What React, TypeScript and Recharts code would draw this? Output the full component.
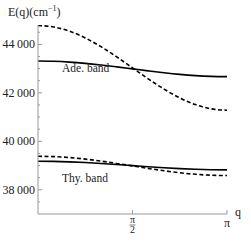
import React from "react";
import { LineChart, Line, XAxis, YAxis } from "recharts";

// q sampled from 0 to pi in steps of pi/12
const qValues = [0, 0.2618, 0.5236, 0.7854, 1.0472, 1.309, 1.5708, 1.8326, 2.0944, 2.3562, 2.618, 2.8798, 3.1416];

// Adenine band (cm^-1)
const adeSolid = [43312, 43301, 43269, 43218, 43151, 43073, 42990, 42907, 42829, 42762, 42711, 42679, 42668];
const adeDashed = [44780, 44720, 44545, 44267, 43905, 43483, 43030, 42577, 42155, 41793, 41515, 41340, 41280];

// Thymine band (cm^-1)
const thySolid = [39175, 39170, 39152, 39124, 39087, 39044, 38998, 38952, 38909, 38872, 38844, 38826, 38820];
const thyDashed = [39381, 39368, 39329, 39265, 39183, 39087, 38984, 38881, 38785, 38703, 38639, 38600, 38586];

const yMajor = [38000, 40000, 42000, 44000];
const yTicks = [37500, 38000, 38500, 39000, 39500, 40000, 40500, 41000, 41500, 42000, 42500, 43000, 43500, 44000, 44500];
const xTicks = [Math.PI / 2, Math.PI];

const data = qValues.map((q, i) => ({
  q,
  adeSolid: adeSolid[i],
  adeDashed: adeDashed[i],
  thySolid: thySolid[i],
  thyDashed: thyDashed[i],
}));

const FONT = "'Liberation Serif', 'DejaVu Serif', serif";
const AXIS = "#999";

function YTick({ x, y, payload }: any) {
  const major = yMajor.includes(payload.value);
  const s = String(payload.value);
  const label = s.slice(0, 2) + "\u2009" + s.slice(2);
  return (
    <g>
      <line x1={x} x2={x + (major ? 4 : 2)} y1={y} y2={y} stroke={AXIS} />
      {major && (
        <text x={x - 3} y={y + 4} textAnchor="end" fontSize={12} fontFamily={FONT} fill="#222">
          {label}
        </text>
      )}
    </g>
  );
}

function XTick({ x, y, payload }: any) {
  const half = Math.abs(payload.value - Math.PI / 2) < 1e-6;
  return (
    <g>
      <line x1={x} x2={x} y1={y} y2={y - 4} stroke={AXIS} />
      {half ? (
        <g fontFamily={FONT} fill="#222" textAnchor="middle">
          <text x={x} y={y + 9} fontSize={10}>π</text>
          <line x1={x - 3} x2={x + 3} y1={y + 11} y2={y + 11} stroke="#222" strokeWidth={0.6} />
          <text x={x} y={y + 19} fontSize={10}>2</text>
        </g>
      ) : (
        <text x={x} y={y + 13} fontSize={12} fontFamily={FONT} fill="#222" textAnchor="middle">π</text>
      )}
    </g>
  );
}

export default function App() {
  return (
    <div style={{ position: "absolute", left: 0, top: 0, width: 251, height: 242, background: "#fff" }}>
      <LineChart width={251} height={242} data={data} margin={{ top: 25, right: 24, bottom: 0, left: 0 }}>
        <XAxis
          type="number"
          dataKey="q"
          domain={[0, Math.PI]}
          ticks={xTicks}
          interval={0}
          height={28}
          tickSize={0}
          tickMargin={0}
          tick={<XTick />}
          axisLine={{ stroke: AXIS }}
          tickLine={false}
        />
        <YAxis
          type="number"
          domain={[37000, 44800]}
          allowDataOverflow
          ticks={yTicks}
          interval={0}
          width={38}
          tickSize={0}
          tickMargin={0}
          tick={<YTick />}
          axisLine={{ stroke: AXIS }}
          tickLine={false}
        />
        <Line type="monotone" dataKey="adeDashed" stroke="#000" strokeWidth={1.6} strokeDasharray="4 2.5" dot={false} isAnimationActive={false} />
        <Line type="monotone" dataKey="adeSolid" stroke="#000" strokeWidth={1.6} dot={false} isAnimationActive={false} />
        <Line type="monotone" dataKey="thyDashed" stroke="#000" strokeWidth={1.6} strokeDasharray="4 2.5" dot={false} isAnimationActive={false} />
        <Line type="monotone" dataKey="thySolid" stroke="#000" strokeWidth={1.6} dot={false} isAnimationActive={false} />
      </LineChart>
      <svg width={251} height={242} style={{ position: "absolute", left: 0, top: 0, pointerEvents: "none" }}>
        <g fontFamily={FONT} fill="#222">
          <text x={8} y={16} fontSize={12}>
            E(q)(cm<tspan fontSize={8} dy={-5}>−1</tspan>
            <tspan dy={5}>)</tspan>
          </text>
          <text x={235} y={216} fontSize={12}>q</text>
          <text x={62} y={72} fontSize={11.5}>Ade.  band</text>
          <text x={62} y={182} fontSize={11.5}>Thy.  band</text>
        </g>
      </svg>
    </div>
  );
}
